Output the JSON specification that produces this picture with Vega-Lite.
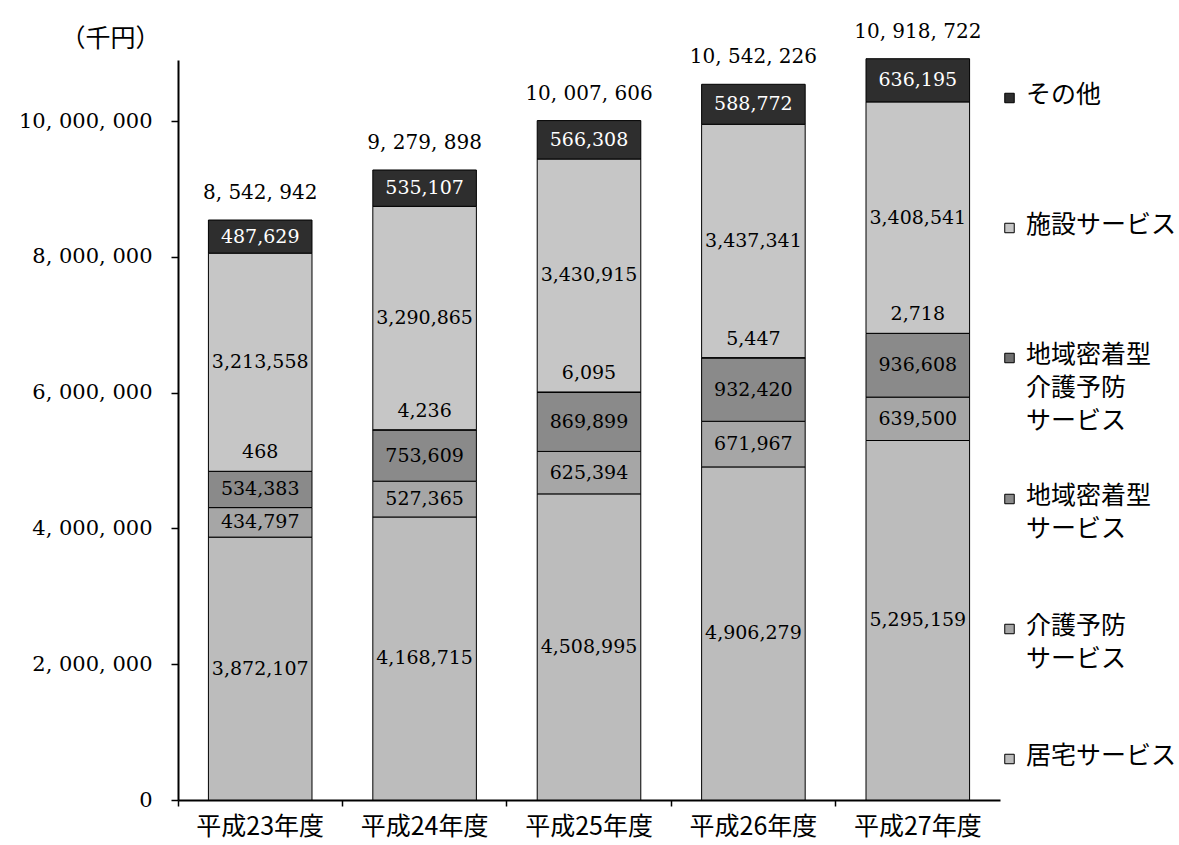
{
  "$schema": "https://vega.github.io/schema/vega-lite/v6.json",
  "width": 822,
  "height": 740,
  "autosize": {"type": "none"},
  "padding": {"left": 178, "top": 60, "right": 179, "bottom": 45},
  "background": "white",
  "config": {"view": {"stroke": null}, "font": "DejaVu Serif"},
  "datasets": {
    "cost": [
      {"year": "平成23年度", "cat": "居宅サービス", "k": 1, "v": 3872107},
      {"year": "平成23年度", "cat": "介護予防サービス", "k": 2, "v": 434797},
      {"year": "平成23年度", "cat": "地域密着型サービス", "k": 3, "v": 534383},
      {"year": "平成23年度", "cat": "地域密着型介護予防サービス", "k": 4, "v": 468},
      {"year": "平成23年度", "cat": "施設サービス", "k": 5, "v": 3213558},
      {"year": "平成23年度", "cat": "その他", "k": 6, "v": 487629},
      {"year": "平成24年度", "cat": "居宅サービス", "k": 1, "v": 4168715},
      {"year": "平成24年度", "cat": "介護予防サービス", "k": 2, "v": 527365},
      {"year": "平成24年度", "cat": "地域密着型サービス", "k": 3, "v": 753609},
      {"year": "平成24年度", "cat": "地域密着型介護予防サービス", "k": 4, "v": 4236},
      {"year": "平成24年度", "cat": "施設サービス", "k": 5, "v": 3290865},
      {"year": "平成24年度", "cat": "その他", "k": 6, "v": 535107},
      {"year": "平成25年度", "cat": "居宅サービス", "k": 1, "v": 4508995},
      {"year": "平成25年度", "cat": "介護予防サービス", "k": 2, "v": 625394},
      {"year": "平成25年度", "cat": "地域密着型サービス", "k": 3, "v": 869899},
      {"year": "平成25年度", "cat": "地域密着型介護予防サービス", "k": 4, "v": 6095},
      {"year": "平成25年度", "cat": "施設サービス", "k": 5, "v": 3430915},
      {"year": "平成25年度", "cat": "その他", "k": 6, "v": 566308},
      {"year": "平成26年度", "cat": "居宅サービス", "k": 1, "v": 4906279},
      {"year": "平成26年度", "cat": "介護予防サービス", "k": 2, "v": 671967},
      {"year": "平成26年度", "cat": "地域密着型サービス", "k": 3, "v": 932420},
      {"year": "平成26年度", "cat": "地域密着型介護予防サービス", "k": 4, "v": 5447},
      {"year": "平成26年度", "cat": "施設サービス", "k": 5, "v": 3437341},
      {"year": "平成26年度", "cat": "その他", "k": 6, "v": 588772},
      {"year": "平成27年度", "cat": "居宅サービス", "k": 1, "v": 5295159},
      {"year": "平成27年度", "cat": "介護予防サービス", "k": 2, "v": 639500},
      {"year": "平成27年度", "cat": "地域密着型サービス", "k": 3, "v": 936608},
      {"year": "平成27年度", "cat": "地域密着型介護予防サービス", "k": 4, "v": 2718},
      {"year": "平成27年度", "cat": "施設サービス", "k": 5, "v": 3408541},
      {"year": "平成27年度", "cat": "その他", "k": 6, "v": 636195}
    ],
    "total": [
      {"year": "平成23年度", "total": 8542942},
      {"year": "平成24年度", "total": 9279898},
      {"year": "平成25年度", "total": 10007606},
      {"year": "平成26年度", "total": 10542226},
      {"year": "平成27年度", "total": 10918722}
    ]
  },
  "encoding": {
    "x": {
      "field": "year",
      "type": "nominal",
      "sort": null,
      "scale": {"paddingInner": 0, "paddingOuter": 0},
      "axis": {
        "title": null,
        "grid": false,
        "domainColor": "black",
        "domainWidth": 2,
        "tickColor": "black",
        "tickWidth": 1.5,
        "tickSize": 6,
        "bandPosition": 0,
        "labelAngle": 0,
        "labelFont": "Noto Sans CJK JP",
        "labelFontSize": 25,
        "labelColor": "black",
        "labelPadding": 8
      }
    }
  },
  "layer": [
    {
      "data": {"name": "cost"},
      "mark": {"type": "bar", "width": {"band": 0.63}, "stroke": "black", "strokeWidth": 1},
      "encoding": {
        "y": {
          "field": "v",
          "type": "quantitative",
          "stack": "zero",
          "scale": {"domain": [0, 10900000], "nice": false},
          "axis": {
            "values": [0, 2000000, 4000000, 6000000, 8000000, 10000000],
            "grid": false,
            "domainColor": "black",
            "domainWidth": 2,
            "tickColor": "black",
            "tickWidth": 1.5,
            "tickSize": 7,
            "labelFont": "DejaVu Serif",
            "labelFontSize": 21,
            "labelColor": "black",
            "labelPadding": 19,
            "labelExpr": "join(split(format(datum.value, ','), ','), ', ')",
            "title": "（千円）",
            "titleAngle": 0,
            "titleX": -68,
            "titleY": -22,
            "titleAlign": "center",
            "titleBaseline": "middle",
            "titleFont": "Noto Sans CJK JP",
            "titleFontSize": 25,
            "titleFontWeight": "normal",
            "titleColor": "black"
          }
        },
        "color": {
          "field": "cat",
          "type": "nominal",
          "scale": {
            "domain": ["その他", "施設サービス", "地域密着型介護予防サービス", "地域密着型サービス", "介護予防サービス", "居宅サービス"],
            "range": ["#2e2e2e", "#c6c6c6", "#707070", "#8a8a8a", "#a6a6a6", "#bcbcbc"]
          },
          "legend": {
            "orient": "none",
            "legendX": 819,
            "legendY": -27,
            "title": null,
            "padding": 0,
            "symbolType": "square",
            "symbolSize": 90,
            "symbolStrokeColor": "black",
            "symbolStrokeWidth": 1,
            "symbolOpacity": 1,
            "labelFont": "Noto Sans CJK JP",
            "labelFontSize": 25,
            "labelColor": "black",
            "labelOffset": 4,
            "labelLimit": 240,
            "labelBaseline": "top",
            "clipHeight": 130,
            "rowPadding": 0,
            "labelExpr": "datum.label === '地域密着型介護予防サービス' ? ['地域密着型', '介護予防', 'サービス'] : datum.label === '地域密着型サービス' ? ['地域密着型', 'サービス'] : datum.label === '介護予防サービス' ? ['介護予防', 'サービス'] : datum.label",
            "encode": {
              "labels": {"update": {"dy": {"value": -15}, "lineHeight": {"value": 33}}}
            }
          }
        },
        "order": {"field": "k", "type": "quantitative"}
      }
    },
    {
      "data": {"name": "cost"},
      "transform": [
        {"stack": "v", "groupby": ["year"], "sort": [{"field": "k", "order": "ascending"}], "as": ["v0", "v1"]},
        {"calculate": "(datum.v0 + datum.v1) / 2", "as": "mid"},
        {"filter": "datum.cat !== '地域密着型介護予防サービス'"}
      ],
      "mark": {"type": "text", "font": "DejaVu Serif", "fontSize": 19, "baseline": "middle", "align": "center"},
      "encoding": {
        "y": {"field": "mid", "type": "quantitative"},
        "text": {"field": "v", "type": "quantitative", "format": ","},
        "color": {"condition": {"test": "datum.cat === 'その他'", "value": "white"}, "value": "black"}
      }
    },
    {
      "data": {"name": "cost"},
      "transform": [
        {"stack": "v", "groupby": ["year"], "sort": [{"field": "k", "order": "ascending"}], "as": ["v0", "v1"]},
        {"calculate": "(datum.v0 + datum.v1) / 2", "as": "mid"},
        {"filter": "datum.cat === '地域密着型介護予防サービス'"}
      ],
      "mark": {"type": "text", "font": "DejaVu Serif", "fontSize": 19, "baseline": "middle", "align": "center", "dy": -19, "color": "black"},
      "encoding": {
        "y": {"field": "mid", "type": "quantitative"},
        "text": {"field": "v", "type": "quantitative", "format": ","}
      }
    },
    {
      "data": {"name": "total"},
      "transform": [
        {"calculate": "join(split(format(datum.total, ','), ','), ', ')", "as": "lbl"}
      ],
      "mark": {"type": "text", "font": "DejaVu Serif", "fontSize": 20, "baseline": "middle", "align": "center", "dy": -27, "color": "black"},
      "encoding": {
        "y": {"field": "total", "type": "quantitative"},
        "text": {"field": "lbl", "type": "nominal"}
      }
    }
  ]
}
